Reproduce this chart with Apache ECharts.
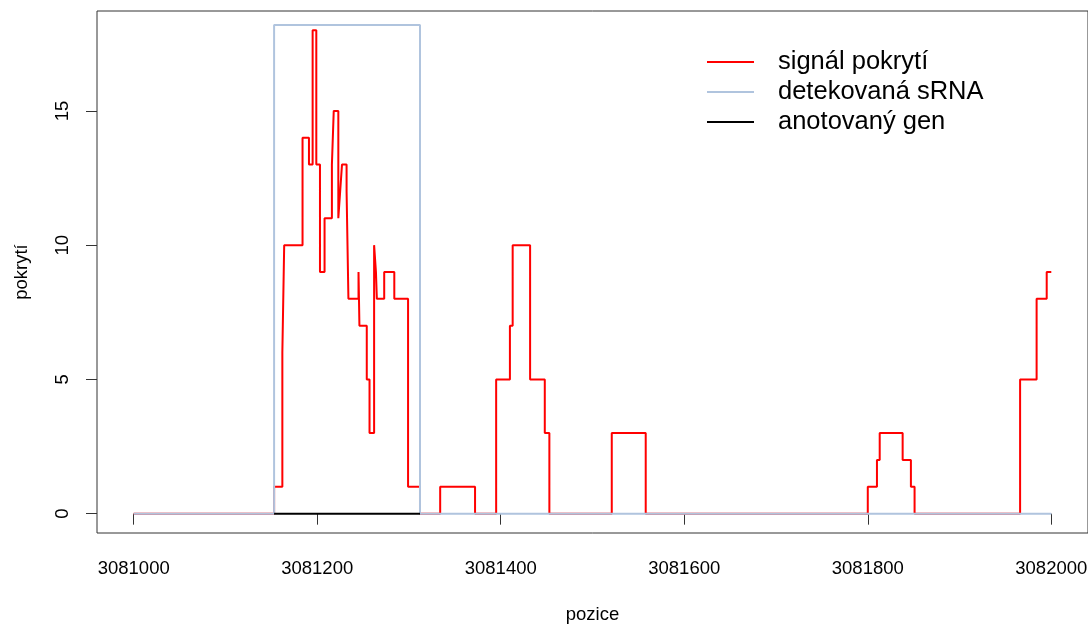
<!DOCTYPE html>
<html>
<head>
<meta charset="utf-8">
<script src="https://cdn.jsdelivr.net/npm/echarts@6/dist/echarts.min.js"></script>
<style>
html,body{margin:0;padding:0;background:#fff;}
#c{width:1088px;height:625px;}
</style>
</head>
<body>
<div id="c"></div>
<script>
// coverage signal: position where the value starts, and the value held until the next position
var redPos = [3081000, 3081153, 3081162, 3081164, 3081184, 3081191, 3081195, 3081199, 3081203, 3081208,
              3081216, 3081218, 3081223, 3081225, 3081227, 3081232, 3081234, 3081245, 3081246, 3081254,
              3081257, 3081262, 3081264, 3081265, 3081273, 3081284, 3081299, 3081312, 3081334, 3081372,
              3081395, 3081410, 3081413, 3081432, 3081448, 3081453, 3081521, 3081558, 3081800, 3081810,
              3081813, 3081838, 3081847, 3081851, 3081966, 3081984, 3081995, 3082000];
var redCov = [0, 1, 6, 10, 14, 13, 18, 13, 9, 11,
              13, 15, 11, 12, 13, 12, 8, 9, 7, 5,
              3, 10, 9, 8, 9, 8, 1, 0, 1, 0,
              5, 7, 10, 5, 3, 0, 3, 0, 1, 2,
              3, 2, 1, 0, 5, 8, 9, 9];
// detected sRNA outline
var srnaPos = [3081000, 3081153, 3081153, 3081312, 3081312, 3082000];
var srnaVal = [0, 0, 18.2, 18.2, 0, 0];
// annotated gene
var genPos = [3081153, 3081312];
var genVal = [0, 0];
// ticks
var xTicks = [3081000, 3081200, 3081400, 3081600, 3081800, 3082000];
var yTicks = [0, 5, 10, 15];
var names = ['signál pokrytí', 'detekovaná sRNA', 'anotovaný gen'];

function pairs(a, b) { return a.map(function (v, i) { return [v, b[i]]; }); }

var FONT = '"Liberation Sans", Arial, sans-serif';
var chart = echarts.init(document.getElementById('c'), null, {renderer: 'canvas'});
chart.setOption({
  animation: false,
  backgroundColor: '#fff',
  textStyle: {fontFamily: FONT},
  grid: {left: 97, top: 11, width: 991, height: 522, show: true, borderColor: '#333', borderWidth: 1,
         containLabel: false, outerBoundsMode: 'none'},
  legend: {
    orient: 'vertical', left: 702, top: 42, itemGap: 0,
    itemWidth: 47, itemHeight: 2, icon: 'rect',
    textStyle: {fontFamily: FONT, fontSize: 25.5, color: '#000', lineHeight: 30, padding: [0, 0, 0, 19]},
    data: names
  },
  xAxis: {
    type: 'value', min: 3080960, max: 3082040,
    name: 'pozice', nameLocation: 'middle', nameGap: 72,
    nameTextStyle: {fontFamily: FONT, fontSize: 18.5, color: '#000'},
    axisLine: {show: false},
    axisTick: {show: true, inside: false, length: 11, customValues: xTicks, lineStyle: {color: '#333', width: 1}},
    axisLabel: {customValues: xTicks, margin: 26, fontFamily: FONT, fontSize: 18.5, color: '#000',
                formatter: function (v) { return String(v); }},
    splitLine: {show: false}
  },
  yAxis: {
    type: 'value', min: -0.72, max: 18.72,
    name: 'pokrytí', nameLocation: 'middle', nameGap: 66, nameRotate: 90,
    nameTextStyle: {fontFamily: FONT, fontSize: 18.5, color: '#000'},
    axisLine: {show: false},
    axisTick: {show: true, inside: false, length: 11, customValues: yTicks, lineStyle: {color: '#333', width: 1}},
    axisLabel: {customValues: yTicks, rotate: 90, margin: 25, fontFamily: FONT, fontSize: 18.5, color: '#000',
                formatter: function (v) { return String(v); }},
    splitLine: {show: false}
  },
  series: [
    {name: names[0], type: 'line', step: 'end', data: pairs(redPos, redCov), showSymbol: false, symbol: 'none',
     color: '#ff0000', lineStyle: {color: '#ff0000', width: 2}, z: 2},
    {name: names[1], type: 'line', data: pairs(srnaPos, srnaVal), showSymbol: false, symbol: 'none',
     color: '#b0c4de', lineStyle: {color: '#b0c4de', width: 2}, z: 3},
    {name: names[2], type: 'line', data: pairs(genPos, genVal), showSymbol: false, symbol: 'none',
     color: '#000000', lineStyle: {color: '#000000', width: 2}, z: 4}
  ]
});
</script>
</body>
</html>
